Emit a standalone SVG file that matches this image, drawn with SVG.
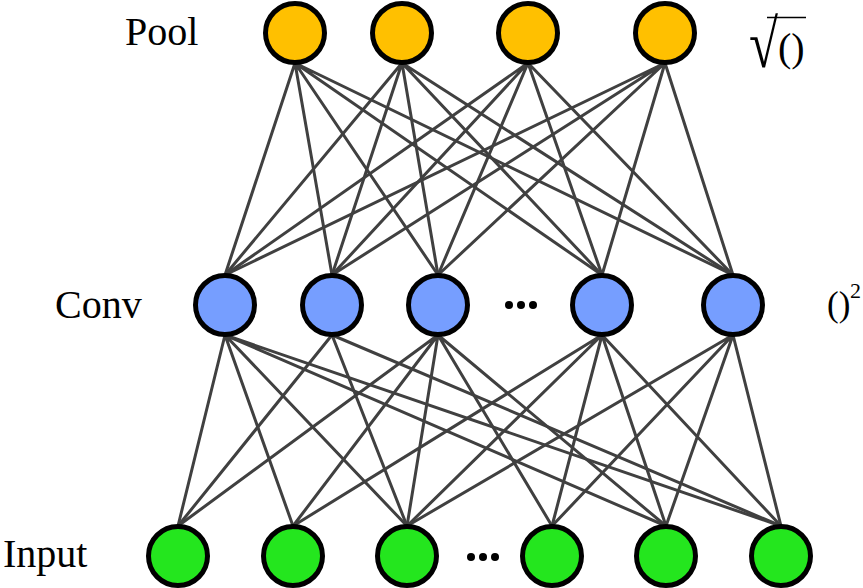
<svg xmlns="http://www.w3.org/2000/svg" width="863" height="588" viewBox="0 0 863 588">
<style>
.lbl{font-family:"Liberation Serif","Times New Roman",serif;font-size:40px;fill:#000}
.e{stroke:#404040;stroke-width:3;fill:none}
.n{stroke:#000;stroke-width:5}
.pool{fill:#FFC000}
.conv{fill:#769EFF}
.inp{fill:#24E61E}
.dot{fill:#000}
</style>
<rect width="863" height="588" fill="#fff"/>
<g id="connectors">
<path class="e" d="M295,63L225,275M295,63L332,275M295,63L438,275M295,63L602,275M295,63L733,275"/>
<path class="e" d="M402,63L225,275M402,63L332,275M402,63L438,275M402,63L602,275M402,63L733,275"/>
<path class="e" d="M528,63L225,275M528,63L332,275M528,63L438,275M528,63L602,275M528,63L733,275"/>
<path class="e" d="M665,63L225,275M665,63L332,275M665,63L438,275M665,63L602,275M665,63L733,275"/>
<path class="e" d="M225,335L178,526M225,335L293,526M225,335L407,526M225,335L666,526M225,335L781,526"/>
<path class="e" d="M332,335L178,526M332,335L407,526M332,335L781,526"/>
<path class="e" d="M438,335L178,526M438,335L293,526M438,335L407,526M438,335L552,526M438,335L666,526"/>
<path class="e" d="M602,335L293,526M602,335L407,526M602,335L552,526M602,335L666,526M602,335L781,526"/>
<path class="e" d="M733,335L407,526M733,335L552,526M733,335L666,526M733,335L781,526"/>
</g>
<g id="pool1"><circle class="n pool" cx="295" cy="33" r="29.5"/></g>
<g id="pool2"><circle class="n pool" cx="402" cy="33" r="29.5"/></g>
<g id="pool3"><circle class="n pool" cx="528" cy="33" r="29.5"/></g>
<g id="pool4"><circle class="n pool" cx="665" cy="33" r="29.5"/></g>
<g id="conv1"><circle class="n conv" cx="225" cy="305" r="29.5"/></g>
<g id="conv2"><circle class="n conv" cx="332" cy="305" r="29.5"/></g>
<g id="conv3"><circle class="n conv" cx="438" cy="305" r="29.5"/></g>
<g id="conv4"><circle class="n conv" cx="602" cy="305" r="29.5"/></g>
<g id="conv5"><circle class="n conv" cx="733" cy="305" r="29.5"/></g>
<g id="input1"><circle class="n inp" cx="178" cy="556" r="29.5"/></g>
<g id="input2"><circle class="n inp" cx="293" cy="556" r="29.5"/></g>
<g id="input3"><circle class="n inp" cx="407" cy="556" r="29.5"/></g>
<g id="input4"><circle class="n inp" cx="552" cy="556" r="29.5"/></g>
<g id="input5"><circle class="n inp" cx="666" cy="556" r="29.5"/></g>
<g id="input6"><circle class="n inp" cx="781" cy="556" r="29.5"/></g>
<g id="conv-ellipsis"><circle class="dot" cx="509" cy="305" r="4"/><circle class="dot" cx="521" cy="305" r="4"/><circle class="dot" cx="533" cy="305" r="4"/></g>
<g id="input-ellipsis"><circle class="dot" cx="471" cy="557" r="4"/><circle class="dot" cx="483" cy="557" r="4"/><circle class="dot" cx="495" cy="557" r="4"/></g>
<g id="labels">
<text class="lbl" x="125" y="45">Pool</text>
<text class="lbl" x="55" y="318">Conv</text>
<text class="lbl" x="3" y="567">Input</text>
<text class="lbl" transform="translate(749,67) scale(1.2,1.55)" x="0" y="0" style="font-size:44px">√</text>
<line x1="767" y1="17.5" x2="806" y2="17.5" stroke="#000" stroke-width="1.5"/>
<text class="lbl" x="778" y="61">()</text>
<text class="lbl" x="827" y="316" style="font-size:35px">()</text>
<text class="lbl" x="850" y="298" style="font-size:22px">2</text>
</g>
</svg>
